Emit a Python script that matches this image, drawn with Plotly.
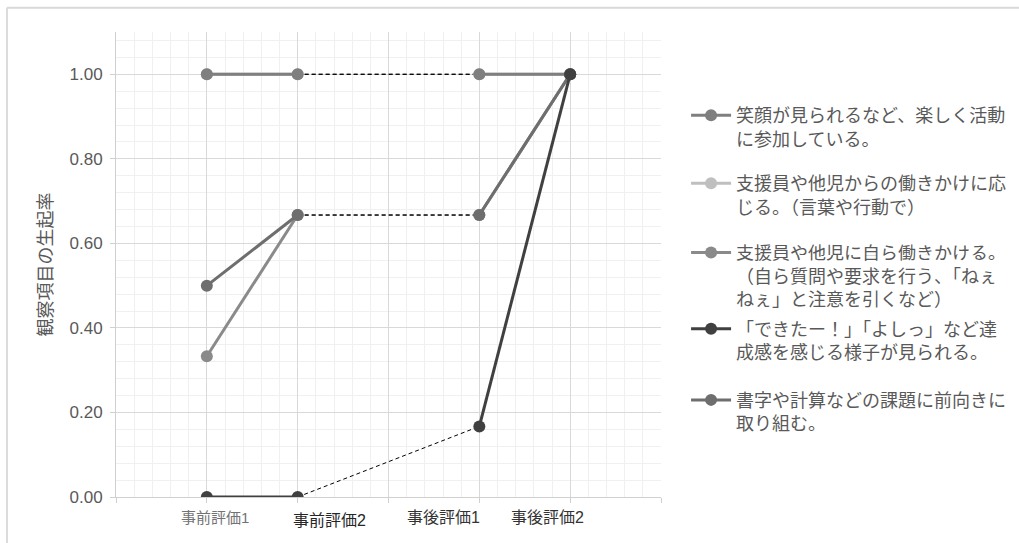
import plotly.graph_objects as go

# Evaluation phases and their positions on the numeric x axis
phases = ["事前評価1", "事前評価2", "事後評価1", "事後評価2"]
phase_pos = [1, 2, 4, 5]

# Observation items (legend labels, wrapped as displayed)
items = [
    "笑顔が見られるなど、楽しく活動<br>に参加している。",
    "支援員や他児からの働きかけに応<br>じる。（言葉や行動で）",
    "支援員や他児に自ら働きかける。<br>（自ら質問や要求を行う、「ねぇ<br>ねぇ」と注意を引くなど）",
    "「できたー！」「よしっ」など達<br>成感を感じる様子が見られる。",
    "書字や計算などの課題に前向きに<br>取り組む。",
]

# Occurrence rates per item for each phase
rates_smile = [1.0, 1.0, 1.0, 1.0]
rates_respond = [1.0, 1.0, 1.0, 1.0]
rates_initiate = [0.333, 0.667, 0.667, 1.0]
rates_achieve = [0.0, 0.0, 0.167, 1.0]
rates_task = [0.5, 0.667, 0.667, 1.0]

series = [rates_smile, rates_respond, rates_initiate, rates_achieve, rates_task]
colors = ["#7f7f7f", "#bfbfbf", "#8a8a8a", "#404040", "#6e6e6e"]

# drawing order (bottom to top)
draw_order = [1, 2, 0, 4, 3]

# legend placement (paper coordinates, top of each legend box)
legend_tops = [0.860, 0.714, 0.565, 0.401, 0.248]

FONT = "Liberation Sans, Noto Sans CJK JP, sans-serif"
TEXT = "#595959"

fig = go.Figure()

# thin dashed connectors between the pre and post phases
for vals in series:
    fig.add_trace(go.Scatter(
        x=[phase_pos[1], phase_pos[2]], y=[vals[1], vals[2]],
        mode="lines", line=dict(color="#000000", width=1, dash="4px,3px"),
        showlegend=False, hoverinfo="skip",
    ))

for i in draw_order:
    vals = series[i]
    xs = phase_pos[:2] + [None] + phase_pos[2:]
    ys = vals[:2] + [None] + vals[2:]
    legend_id = "legend" if i == 0 else f"legend{i + 1}"
    fig.add_trace(go.Scatter(
        x=xs, y=ys, name=items[i], mode="lines+markers",
        line=dict(color=colors[i], width=3),
        marker=dict(color=colors[i], size=12),
        connectgaps=False, legend=legend_id,
    ))

legend_style = dict(
    x=1.046, xanchor="left", yanchor="top", valign="top",
    font=dict(family=FONT, size=18, color=TEXT),
    bgcolor="rgba(0,0,0,0)", itemwidth=40,
)
layout_legends = {}
for i, top in enumerate(legend_tops):
    key = "legend" if i == 0 else f"legend{i + 1}"
    layout_legends[key] = dict(legend_style, y=top)

# phase labels under the x axis
x_shifts = [8, 32, -36, -23]
label_sizes = [15, 16, 16, 16]
label_colors = ["#737373", "#262626", "#333333", "#333333"]
label_yshift = [-20, -23, -20, -20]
annotations = [
    dict(x=p, y=0, xref="x", yref="paper", text=t, showarrow=False,
         xshift=xs, yshift=ys, yanchor="middle",
         font=dict(family=FONT, size=sz, color=c))
    for p, t, xs, sz, c, ys in zip(phase_pos, phases, x_shifts, label_sizes,
                                   label_colors, label_yshift)
]

# outer frame lines
shapes = [
    dict(type="line", xref="paper", yref="paper", x0=-0.2, x1=-0.2, y0=-0.3, y1=1.052,
         line=dict(color="#d0d0d0", width=1.5)),
    dict(type="line", xref="paper", yref="paper", x0=-0.2, x1=1.8, y0=1.052, y1=1.052,
         line=dict(color="#d9d9d9", width=2)),
]

fig.update_layout(
    width=1019, height=543,
    margin=dict(l=116, r=358, t=32, b=46, autoexpand=False),
    paper_bgcolor="white", plot_bgcolor="white",
    font=dict(family=FONT, color=TEXT),
    annotations=annotations, shapes=shapes,
    **layout_legends,
)

fig.update_xaxes(
    range=[0, 6], dtick=1, tick0=0, showticklabels=False,
    showgrid=True, gridcolor="#d9d9d9", gridwidth=1,
    minor=dict(dtick=0.2, showgrid=True, gridcolor="#f0f0f0", gridwidth=1),
    ticks="outside", ticklen=5, tickcolor="#d0d0d0",
    showline=True, linecolor="#d0d0d0", zeroline=False,
)
fig.update_yaxes(
    range=[0, 1.1], dtick=0.2, tick0=0, tickformat=".2f",
    tickfont=dict(family=FONT, size=17, color=TEXT),
    ticklabelstandoff=4,
    showgrid=True, gridcolor="#d9d9d9", gridwidth=1,
    minor=dict(dtick=0.04, showgrid=True, gridcolor="#f0f0f0", gridwidth=1),
    ticks="outside", ticklen=5, tickcolor="#d0d0d0",
    showline=True, linecolor="#d0d0d0", zeroline=False,
    title=dict(text="観察項目の生起率", standoff=12,
               font=dict(family=FONT, size=18, color=TEXT)),
)

fig.write_html("out.html")
